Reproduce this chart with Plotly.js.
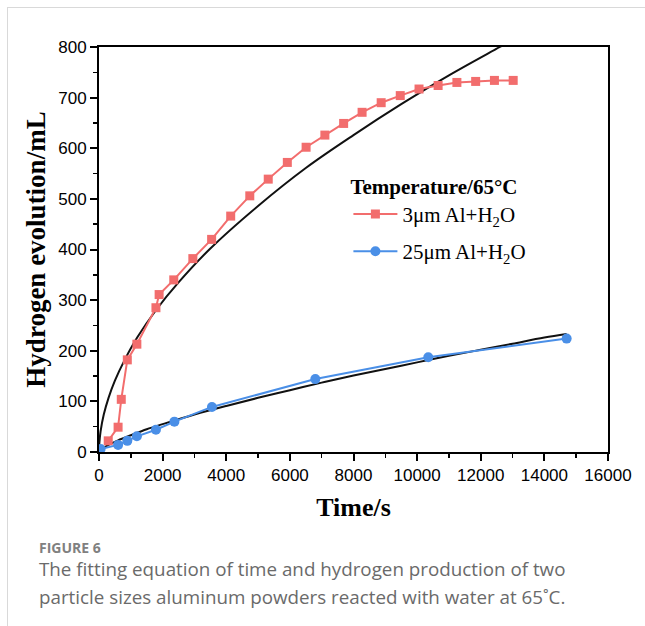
<!DOCTYPE html>
<html>
<head>
<meta charset="utf-8">
<script src="https://cdn.plot.ly/plotly-3.0.1.min.js"></script>
<style>
  html, body { margin: 0; padding: 0; background: #fff; }
  #frame { position: absolute; left: 7px; top: 7px; width: 638px; height: 619px;
           border-left: 1px solid #d9d9d9; border-top: 1px solid #d9d9d9; }
  #chart { position: absolute; left: 0; top: 0; width: 645px; height: 626px; }
</style>
</head>
<body>
<div id="frame"></div>
<div id="chart"></div>
<script>
// Measured data, 3 µm Al + H2O
const timeSmall = [290, 600, 700, 890, 1190, 1790, 1890, 2350, 2950, 3540, 4140, 4740, 5320, 5920, 6510, 7100, 7690, 8270, 8870, 9470, 10060, 10660, 11250, 11840, 12430, 13020];
const h2Small   = [22, 49, 104, 182, 213, 285, 311, 340, 382, 420, 466, 506, 539, 572, 602, 626, 649, 671, 690, 704, 717, 724, 730, 732, 734, 734];

// Measured data, 25 µm Al + H2O
const timeLarge = [50, 600, 890, 1190, 1790, 2370, 3550, 6800, 10350, 14700];
const h2Large   = [6, 14, 22, 31, 44, 60, 89, 144, 187, 224];

// Fitted curves
const fitSmallT = [0, 10, 50, 150, 300, 500, 800, 1200, 1800, 2500, 3500, 5000, 6500, 8000, 9500, 11000, 12600, 13000];
const fitSmallH = [0, 17, 41, 74, 107, 141, 181, 226, 281, 335, 402, 486, 561, 626, 687, 744, 800, 814];
const fitLargeT = [0, 100, 300, 600, 1000, 1500, 2000, 3000, 4000, 5000, 6000, 7000, 8000, 9000, 10000, 11000, 12000, 13000, 14000, 14700];
const fitLargeH = [0, 6, 14, 23, 33, 45, 55, 74, 91, 107, 122, 137, 151, 164, 177, 190, 202, 214, 226, 233];

const xTicks = [0, 2000, 4000, 6000, 8000, 10000, 12000, 14000, 16000];
const yTicks = [0, 100, 200, 300, 400, 500, 600, 700, 800];

const red = '#f26d6d';
const blue = '#4a8fe7';
const serif = 'Liberation Serif, Times New Roman, serif';
const sans = 'Liberation Sans, Arial, sans-serif';
const capFont = 'Open Sans, Noto Sans, sans-serif';

const traces = [
  { x: fitSmallT, y: fitSmallH, mode: 'lines', line: {color: '#111', width: 2, shape: 'spline'}, showlegend: false, hoverinfo: 'skip' },
  { x: fitLargeT, y: fitLargeH, mode: 'lines', line: {color: '#111', width: 2, shape: 'spline'}, showlegend: false, hoverinfo: 'skip' },
  { x: timeSmall, y: h2Small, name: '3μm Al+H<sub>2</sub>O', mode: 'lines+markers', legendgroup: 'a',
    line: {color: red, width: 2}, marker: {symbol: 'square', size: 9, color: red} },
  { x: timeLarge, y: h2Large, name: '25μm Al+H<sub>2</sub>O', mode: 'lines+markers', legendgroup: 'b',
    line: {color: blue, width: 2}, marker: {symbol: 'circle', size: 10, color: blue} }
];

const layout = {
  width: 645, height: 626,
  margin: {l: 99, r: 37, t: 47, b: 174},
  paper_bgcolor: 'rgba(0,0,0,0)', plot_bgcolor: '#fff',
  font: {family: sans, color: '#000'},
  xaxis: {
    range: [0, 16000], tickvals: xTicks, ticktext: xTicks.map(String),
    ticks: 'outside', ticklen: 7, tickwidth: 2, tickcolor: '#000',
    minor: {dtick: 1000, ticks: 'outside', ticklen: 4, tickwidth: 1.5, tickcolor: '#000'},
    showline: true, linecolor: '#000', linewidth: 2, mirror: true,
    showgrid: false, zeroline: false,
    tickfont: {size: 17, family: sans},
    title: {text: '<b>Time/s</b>', font: {size: 26, family: serif}, standoff: 13}
  },
  yaxis: {
    range: [0, 800], tickvals: yTicks, ticktext: yTicks.map(String),
    ticks: 'outside', ticklen: 7, tickwidth: 2, tickcolor: '#000',
    minor: {dtick: 50, ticks: 'outside', ticklen: 4, tickwidth: 1.5, tickcolor: '#000'},
    showline: true, linecolor: '#000', linewidth: 2, mirror: true,
    showgrid: false, zeroline: false,
    tickfont: {size: 17, family: sans},
    title: {text: '<b>Hydrogen evolution/mL</b>', font: {size: 27, family: serif}, standoff: 5}
  },
  legend: {
    x: 0.49, y: 0.705, xanchor: 'left', yanchor: 'top',
    bgcolor: 'rgba(0,0,0,0)',
    traceorder: 'grouped', tracegroupgap: 7, itemwidth: 44,
    font: {size: 21, family: serif, color: '#000'},
    title: {text: '<b>Temperature/65°C</b>', side: 'top', font: {size: 21, family: serif}}
  },
  annotations: [
    { xref: 'paper', yref: 'paper', x: -0.122, y: -0.237, xanchor: 'left', yanchor: 'middle', showarrow: false,
      text: '<b>FIGURE 6</b>', font: {size: 14, color: '#808080', family: capFont} },
    { xref: 'paper', yref: 'paper', x: -0.122, y: -0.29, xanchor: 'left', yanchor: 'middle', showarrow: false, align: 'left',
      text: 'The fitting equation of time and hydrogen production of two', font: {size: 18.8, color: '#6a6a6a', family: capFont} },
    { xref: 'paper', yref: 'paper', x: -0.122, y: -0.357, xanchor: 'left', yanchor: 'middle', showarrow: false, align: 'left',
      text: 'particle sizes aluminum powders reacted with water at 65˚C.', font: {size: 18.8, color: '#6a6a6a', family: capFont} }
  ]
};

Plotly.newPlot('chart', traces, layout, {displayModeBar: false, staticPlot: true});
</script>
</body>
</html>
